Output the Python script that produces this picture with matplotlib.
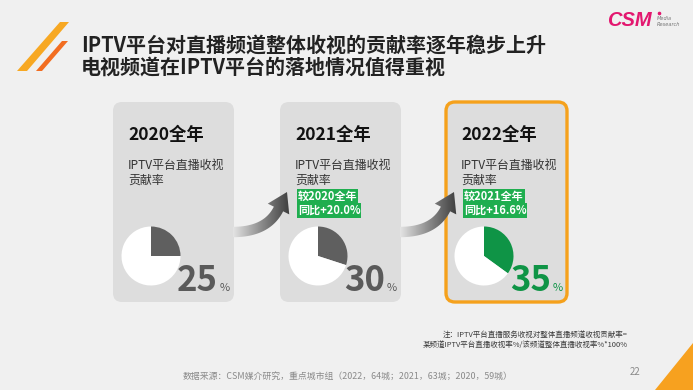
import numpy as np
import matplotlib
matplotlib.use("Agg")
import matplotlib.pyplot as plt
from matplotlib.patches import FancyBboxPatch, Polygon
from matplotlib.colors import LinearSegmentedColormap

plt.rcParams['font.family'] = ['Noto Sans CJK SC', 'DejaVu Sans']

# ---- data ----
years = ['2020全年', '2021全年', '2022全年']
shares = [25, 30, 35]
compare_base = ['较2020全年', '较2021全年']
yoy_labels = ['同比+20.0%', '同比+16.6%']
subtitle = ['IPTV平台直播收视', '贡献率']
title_lines = ['IPTV平台对直播频道整体收视的贡献率逐年稳步上升',
               '电视频道在IPTV平台的落地情况值得重视']
note_lines = ['注：IPTV平台直播服务收视对整体直播频道收视贡献率=',
              '某频道IPTV平台直播收视率%/该频道整体直播收视率%*100%']
source = '数据来源：CSM媒介研究，重点城市组（2022，64城；2021，63城；2020，59城）'
page_no = '22'

W, H = 693, 390
BG = '#f0f0f0'
CARD = '#dddddd'
GRAY = '#5f5f5f'
NUMGRAY = '#5a5a5a'
GREEN = '#0f9446'
LABELGREEN = '#1fae4f'
ORANGE = '#f5a11c'

fig = plt.figure(figsize=(W / 100, H / 100), dpi=100)
fig.patch.set_facecolor(BG)
ax = fig.add_axes([0, 0, 1, 1])
ax.set_facecolor(BG)
ax.axis('off')

# decorative slashes
ax.add_patch(Polygon([(60, 22), (69, 22), (27, 71), (17, 71)], closed=True,
                     facecolor='#f7a823', edgecolor='none'))
ax.add_patch(Polygon([(62, 41), (68, 41), (42, 71), (36, 71)], closed=True,
                     facecolor='#f26d21', edgecolor='none'))

# title
ax.text(81, 45, title_lines[0], fontsize=14.4, fontweight='bold', color='#222222',
        va='center', ha='left')
ax.text(81, 67, title_lines[1], fontsize=14.4, fontweight='bold', color='#222222',
        va='center', ha='left')

# logo
ax.text(607, 21, 'CSM', fontsize=14.5, fontweight='heavy', style='italic',
        color='#e3176f', va='center', ha='left', family=['Liberation Sans'])
ax.text(657, 18.5, 'Media', fontsize=3.6, style='italic', color='#777777',
        va='center', ha='left', family=['DejaVu Sans'])
ax.text(657, 24, 'Research', fontsize=3.6, style='italic', color='#777777',
        va='center', ha='left', family=['DejaVu Sans'])
ax.plot([659], [13], marker='o', markersize=1.6, color='#e3176f')

# cards
card_left = [113, 280, 446]
card_top, card_bottom, card_w = 102, 302, 121
for i, x0 in enumerate(card_left):
    if i == 2:
        box = FancyBboxPatch((x0, card_top), card_w, card_bottom - card_top,
                             boxstyle='round,pad=0,rounding_size=9',
                             facecolor=CARD, edgecolor=ORANGE, linewidth=2.4,
                             zorder=1)
    else:
        box = FancyBboxPatch((x0, card_top), card_w, card_bottom - card_top,
                             boxstyle='round,pad=0,rounding_size=9',
                             facecolor=CARD, edgecolor='none', zorder=1)
    ax.add_patch(box)
    ax.text(x0 + 15, 135, years[i], fontsize=12.5, fontweight='bold',
            color='#111111', va='center', ha='left', zorder=5)
    ax.text(x0 + 15, 165, subtitle[0], fontsize=8.6, color='#333333',
            va='center', ha='left', zorder=5)
    ax.text(x0 + 15, 180, subtitle[1], fontsize=8.6, color='#333333',
            va='center', ha='left', zorder=5)

    # pie
    cx, cy, r = x0 + 38, 256, 29.5
    pax = fig.add_axes([(cx - r) / W, 1 - (cy + r) / H, 2 * r / W, 2 * r / H])
    pcol = GREEN if i == 2 else GRAY
    pax.pie([shares[i], 100 - shares[i]], colors=[pcol, 'white'],
            startangle=90, counterclock=False,
            wedgeprops=dict(linewidth=0))
    pax.set_xlim(-1, 1)
    pax.set_ylim(-1, 1)
    pax.set_aspect('auto')
    pax.axis('off')

    ncol = GREEN if i == 2 else NUMGRAY
    ax.text(x0 + 105, 291, f'{shares[i]}', fontsize=25, fontweight='bold',
            color=ncol, va='baseline', ha='right', zorder=5)
    ax.text(x0 + 106.5, 291, '%', fontsize=8, color=ncol, va='baseline',
            ha='left', zorder=5)

# green comparison labels
for j, x0 in enumerate(card_left[1:]):
    ax.text(x0 + 18, 196, compare_base[j], fontsize=8, fontweight='bold',
            color='white', va='center', ha='left', zorder=6,
            bbox=dict(facecolor=LABELGREEN, edgecolor='none', pad=0.6))
    ax.text(x0 + 18, 210.5, yoy_labels[j], fontsize=8, fontweight='bold',
            color='white', va='center', ha='left', zorder=6,
            bbox=dict(facecolor=LABELGREEN, edgecolor='none', pad=0.6))

# curved gradient arrows
cmap = LinearSegmentedColormap.from_list('g', ['#e4e4e4', '#8a8a8a', '#3a3a3a'])


def draw_arrow(sx, sy):
    P0 = np.array([0.0, 0.0])
    P1 = np.array([34.0, 0.0])
    P2 = np.array([45.5, -23.0])
    t = np.linspace(0, 1, 40)[:, None]
    pts = (1 - t) ** 2 * P0 + 2 * (1 - t) * t * P1 + t ** 2 * P2
    der = 2 * (1 - t) * (P1 - P0) + 2 * t * (P2 - P1)
    der = der / np.linalg.norm(der, axis=1, keepdims=True)
    nrm = np.column_stack([-der[:, 1], der[:, 0]])
    hw = 5.2
    upper = pts + hw * nrm
    lower = pts - hw * nrm
    d = der[-1]
    n = nrm[-1]
    base = P2
    c1 = base + 12 * n
    c2 = base - 12 * n
    tip = base + 19 * d
    poly = np.vstack([upper, c1[None, :], tip[None, :], c2[None, :], lower[::-1]])
    poly = poly + np.array([sx, sy])
    patch = Polygon(poly, closed=True, facecolor='none', edgecolor='none')
    ax.add_patch(patch)
    grad = np.linspace(0, 1, 256)[None, :]
    im = ax.imshow(grad, cmap=cmap, aspect='auto',
                   extent=[sx, sx + 58, sy + 12, sy - 45], zorder=4,
                   interpolation='bilinear')
    im.set_clip_path(patch)


draw_arrow(233, 232)
draw_arrow(400, 232)

# notes
ax.text(628, 335, note_lines[0], fontsize=5.4, color='#3a3a3a', va='center',
        ha='right')
ax.text(628, 344.5, note_lines[1], fontsize=5.4, color='#3a3a3a', va='center',
        ha='right')
ax.text(183, 376, source, fontsize=6.4, color='#8a8a8a', va='center', ha='left')
ax.text(630, 372, page_no, fontsize=7, color='#8a8a8a', va='center', ha='left')

# corner triangle
ax.add_patch(Polygon([(655, 390), (693, 343), (693, 390)], closed=True,
                     facecolor='#f7a11f', edgecolor='none'))

ax.set_xlim(0, W)
ax.set_ylim(H, 0)
fig.savefig('out.png', dpi=100, facecolor=BG)
